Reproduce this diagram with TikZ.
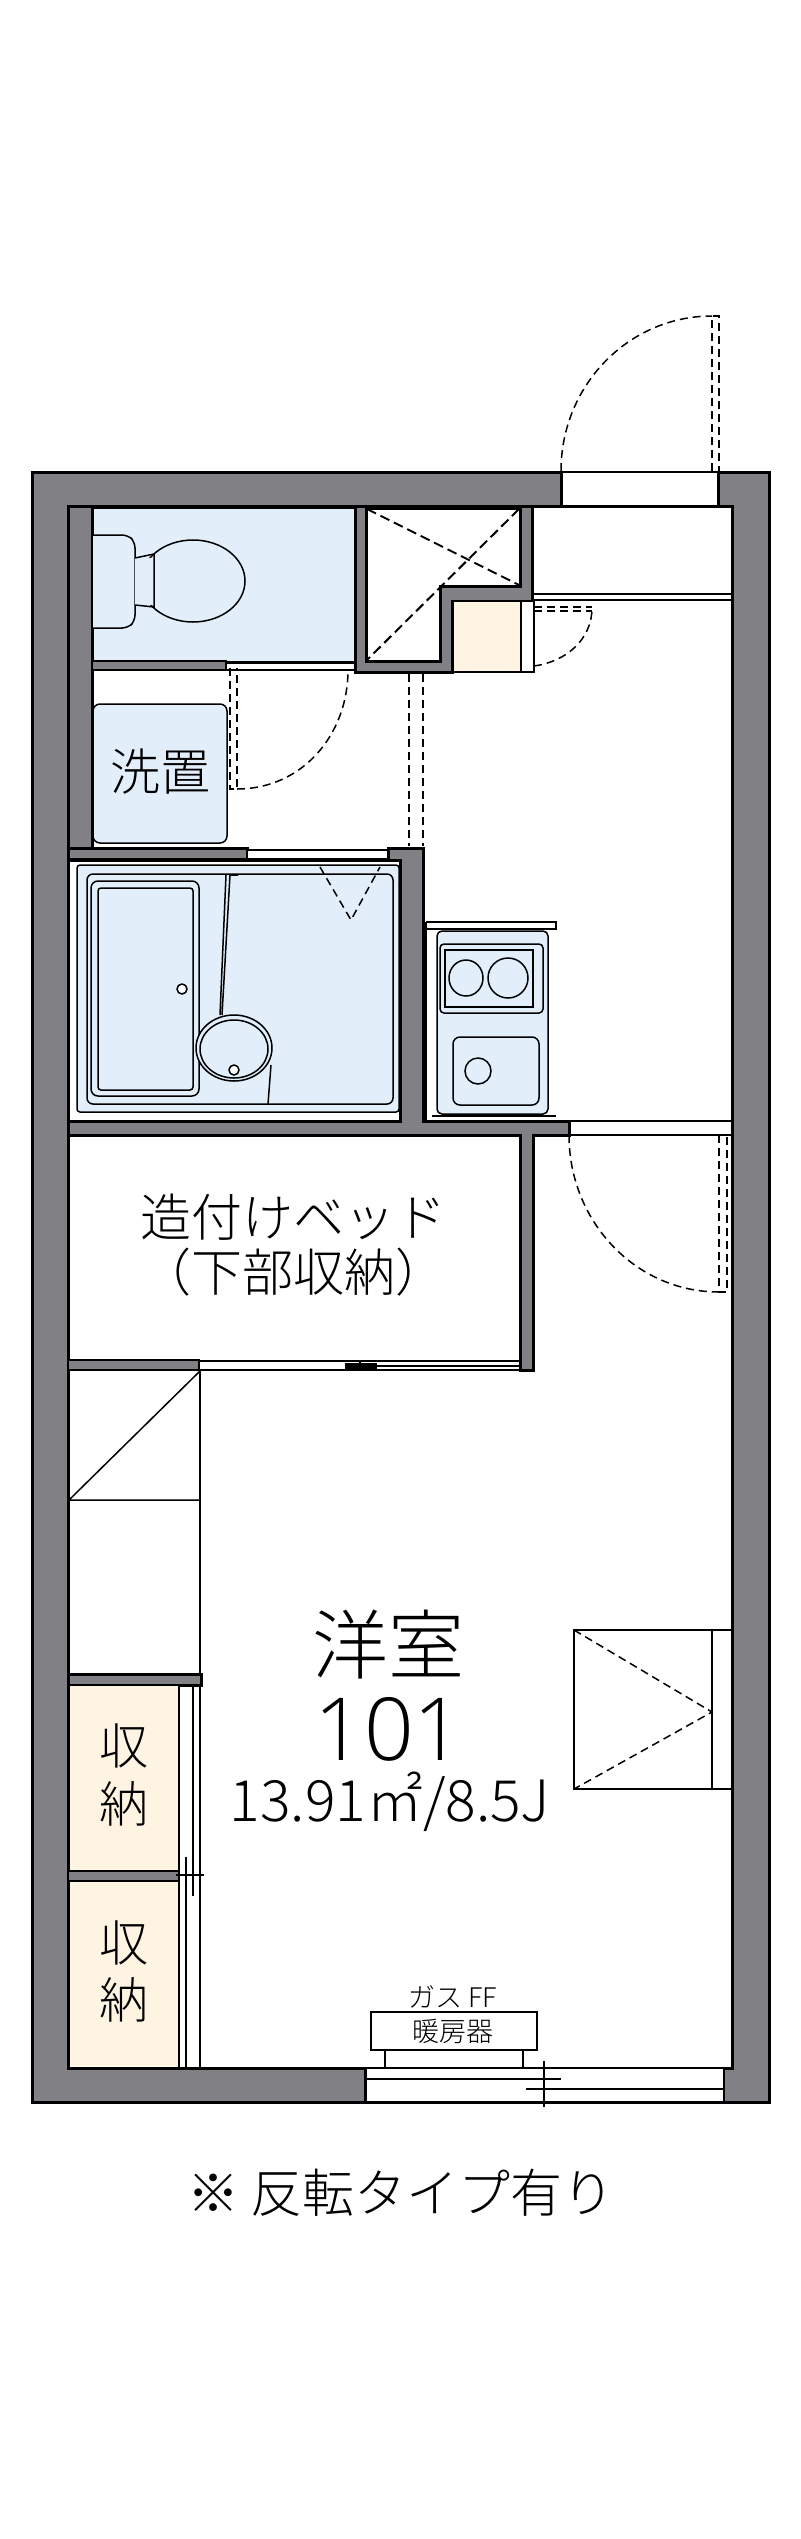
\documentclass[tikz,border=0pt]{standalone}
\usepackage{fontspec}
\IfFontExistsTF{Noto Sans CJK JP Light}{\setmainfont{Noto Sans CJK JP Light}}{\setmainfont{Noto Sans CJK JP}}
\IfFontExistsTF{Open Sans Light}{\newfontfamily\numfont{Open Sans Light}}{\newfontfamily\numfont{Open Sans}}
\definecolor{wallgray}{HTML}{808085}
\definecolor{wetblue}{HTML}{E3EEFB}
\definecolor{storecream}{HTML}{FFF4E1}
\tikzset{
  wall/.style={draw=black,fill=wallgray,line width=3pt},
  roomedge/.style={draw=black,fill=white,line width=3pt},
  thinline/.style={draw=black,line width=1.5pt},
  wetpart/.style={draw=black,fill=wetblue,line width=1.5pt},
  swing/.style={draw=black,line width=1.5pt,dash pattern=on 8pt off 5pt},
  crossdash/.style={draw=black,line width=2pt,dash pattern=on 10pt off 5pt},
  jptext/.style={inner sep=0pt,font=\fontsize{#1}{#1}\selectfont}
}
\begin{document}
\begin{tikzpicture}[x=1pt,y=-1pt]
    \useasboundingbox (0,0) rectangle (800,2539);
    % shell
    \draw[wall] (32,472) rectangle (769,2102);
    \draw[roomedge] (68,506) rectangle (732,2068);
    \draw[thinline,fill=white] (561,472) rectangle (718,506);
    \draw[thinline,fill=white] (365,2068) rectangle (724,2102);
    \draw[line width=3pt] (561,472) -- (561,506) (718,472) -- (718,506) (365,2068) -- (365,2102);
    \draw[wall] (68,506) rectangle (92,848);
    % entrance door
    \draw[swing] (561,471) .. controls (561,385) and (629,316) .. (712,316);
    \draw[swing] (712,471) -- (712,316) -- (719,316) -- (719,471);
    % toilet
    \draw[roomedge,fill=wetblue] (92,507) rectangle (355,662);
    \draw[wetpart,rounded corners=6pt] (93,535) -- (128,535) -- (135,542) -- (135,621) -- (128,628) -- (93,628);
    \draw[wetpart] (193,581) ellipse (52 and 41);
    \draw[wetpart,draw=none] (135,558) rectangle (154,605);
    \draw[thinline] (135,558) -- (154,554) -- (154,607) -- (135,605);
    \draw[wall,line width=2.5pt] (92,661) rectangle (226,670);
    \draw[thinline,fill=white] (226,663) rectangle (355,670);
    % shaft
    \draw[wall] (355,506) -- (532,506) -- (532,601) -- (452,601) -- (452,672) -- (355,672) -- cycle;
    \draw[roomedge] (366,508) -- (520,508) -- (520,586) -- (440,586) -- (440,661) -- (366,661) -- cycle;
    \draw[crossdash] (367,509) -- (519,585);
    \draw[crossdash] (519,509) -- (367,660);
    % meter box and its door
    \draw[thinline,fill=storecream] (453,601) rectangle (521,672);
    \draw[thinline,fill=white] (521,601) rectangle (534,672);
    \draw[swing] (534,666) .. controls (565,662) and (592,640) .. (592,608);
    \draw[swing] (534,607) -- (592,607) (534,611) -- (592,611);
    \foreach \y in {594,600}
    \draw[thinline] (533,\y) -- (732,\y);
    % washroom
    \draw[swing] (230,668) -- (230,789) -- (237,789) -- (237,668);
    \draw[swing] (237,789) .. controls (302,789) and (348,735) .. (348,670);
    \foreach \x in {409,423}
    \draw[swing] (\x,674) -- (\x,846);
    \draw[wetpart,rounded corners=7pt] (93,704) rectangle (227,843);
    \node[jptext=50] (washlabel) at (160,772) {洗置};
    \draw[wall] (68,848) rectangle (247,859);
    \draw[thinline,fill=white] (247,850) rectangle (390,859);
    % bathroom
    \draw[roomedge] (68,860) rectangle (400,1121);
    \draw[wetpart,rounded corners=3pt] (77,865) rectangle (399,1112);
    \draw[wetpart,rounded corners=6pt] (87,874) rectangle (393,1104);
    \draw[wetpart,rounded corners=7pt] (91,881) rectangle (199,1096);
    \draw[wetpart,rounded corners=3pt] (98,888) rectangle (193,1090);
    \draw[thinline,fill=white] (182,989) ellipse (5 and 5);
    \draw[thinline] (230,875) -- (238,875) (230,875) -- (222,1015) (226,875) -- (220,1015);
    \draw[wetpart] (234,1048) ellipse (38 and 33);
    \draw[thinline] (234,1049) ellipse (34 and 29);
    \draw[thinline,fill=white] (234,1070) ellipse (5 and 5);
    \draw[thinline] (271,1065) -- (268,1104);
    \draw[swing] (320,867) -- (351,920) -- (380,867);
    % kitchen
    \draw[thinline] (426,922) -- (556,922) -- (556,929) -- (426,929);
    \draw[line width=2.5pt] (426,922) -- (426,1121);
    \draw[wetpart,rounded corners=5pt] (437,931) rectangle (548,1114);
    \draw[wetpart,rounded corners=4pt] (440,944) rectangle (543,1013);
    \draw[wetpart,line width=2pt] (445,950) rectangle (533,1007);
    \draw[thinline] (466,978) ellipse (17 and 18);
    \draw[thinline] (508,978) ellipse (20 and 20);
    \draw[wetpart,rounded corners=7pt] (453,1037) rectangle (539,1105);
    \draw[thinline] (478,1071) ellipse (13 and 13);
    \draw[line width=2.5pt] (432,1116) -- (556,1116);
    % partition walls
    \draw[wall] (388,848) -- (423,848) -- (423,1121) -- (569,1121) -- (569,1135) -- (533,1135) -- (533,1370) -- (520,1370) -- (520,1135) -- (68,1135) -- (68,1121) -- (400,1121) -- (400,860) -- (388,860) -- cycle;
    % second door
    \draw[thinline] (569,1121) -- (732,1121) (569,1135) -- (732,1135);
    \draw[swing] (569,1135) .. controls (569,1222) and (636,1292) .. (719,1292);
    \draw[swing] (719,1135) -- (719,1292) -- (727,1292) -- (727,1135);
    % built-in bed
    \node[jptext=51] (bedlabel) at (293,1217) {造付けベッド};
    \node[jptext=51] (bedsublabel) at (293,1272) {（下部収納）};
    \draw[wall,line width=2.5pt] (68,1360) rectangle (199,1370);
    \draw[line width=2.5pt] (199,1361) -- (520,1361);
    \draw[thinline] (199,1370) -- (520,1370) (199,1361) -- (199,1370);
    \draw[line width=1.5pt] (377,1366) -- (520,1366);
    \draw[fill=black] (345,1363) rectangle (376,1368);
    \draw[thinline] (360,1360) -- (360,1370);
    % stairs
    \draw[thinline] (200,1370) -- (200,1674);
    \draw[thinline] (200,1371) -- (69,1500) -- (200,1500);
    \draw[wall] (68,1674) rectangle (201,1685);
    % storage
    \foreach \ytop/\ybot/\yfirst/\ysecond/\idx in {1686/1870/1746/1804/a,1882/2066/1943/2000/b}{
    \fill[storecream] (70,\ytop) rectangle (178,\ybot);
    \node[jptext=49] (store\idx one) at (124,\yfirst) {収};
    \node[jptext=49] (store\idx two) at (124,\ysecond) {納};
    }
    \draw[wall,line width=2.5pt] (68,1871) rectangle (179,1881);
    \draw[thinline] (179,1686) -- (179,2068) (200,1686) -- (200,2068);
    \draw[thinline] (193,1686) -- (193,1896) (186,1857) -- (186,2068);
    \draw[thinline] (176,1875) -- (204,1875);
    % main room
    \node[jptext=76] (roomname) at (388,1645) {洋室};
    \node[font=\numfont\fontsize{87}{87}\selectfont,inner sep=0pt] (roomnum) at (389,1729) {101};
    \node[jptext=57] (roomarea) at (390,1802) {13.91㎡/8.5J};
    % closet on right wall
    \draw[thinline] (732,1630) -- (574,1630) -- (574,1789) -- (732,1789);
    \draw[thinline] (712,1630) -- (712,1789);
    \draw[swing] (574,1630) -- (712,1712) -- (574,1789);
    % heater and window
    \node[jptext=27] (gaslabel) at (453,1997) {ガス FF};
    \draw[thinline] (371,2012) rectangle (537,2050);
    \node[jptext=27] (heaterlabel) at (453,2031) {暖房器};
    \draw[thinline] (385,2050) -- (385,2068) (523,2050) -- (523,2068);
    \draw[thinline] (366,2079) -- (561,2079) (526,2089) -- (723,2089) (544,2061) -- (544,2107);
    \node[jptext=52] (notelabel) at (401,2193) {※ 反転タイプ有り};
\end{tikzpicture}
\end{document}
